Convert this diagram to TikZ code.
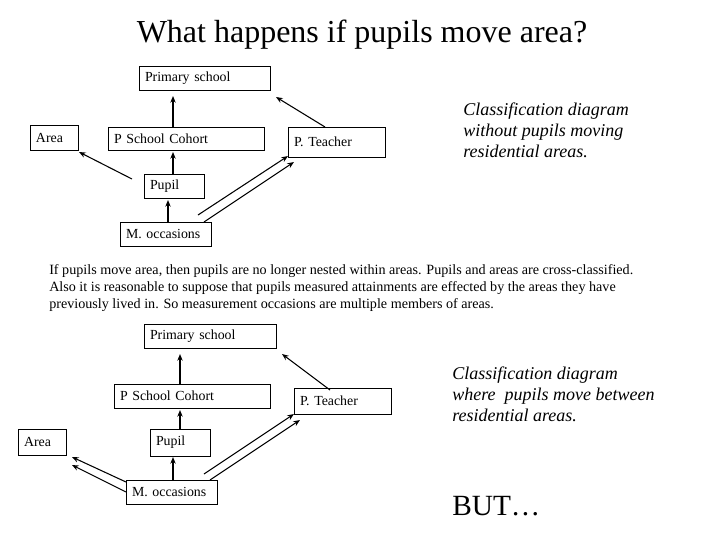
\documentclass[tikz,border=0pt]{standalone}
\usepackage{fontspec}
\setmainfont{Liberation Serif}
\usetikzlibrary{arrows.meta}
\begin{document}
\begin{tikzpicture}[x=0.75pt,y=-0.75pt,
  bx/.style={draw,line width=0.6pt,inner sep=0pt,font=\fontsize{10.4}{12}\selectfont},
  va/.style={-{Stealth[length=5pt,width=4pt]},line width=1.3pt},
  da/.style={-{Stealth[length=5pt,width=4pt]},line width=0.8pt}]
\useasboundingbox (0,0) rectangle (720,540);
\newcommand\bx[6]{\node[bx,minimum width=(#4-#2)*0.75pt,minimum height=(#5-#3)*0.75pt,text width=(#4-#2-12)*0.75pt,align=left] (#1) at ({(#2+#4)/2},{(#3+#5)/2}) {#6};}
\node (title) at (362,35) {\fontsize{24}{28}\selectfont What happens if pupils move area?};
% top diagram
\bx{ps1}{139}{66}{270}{90}{Primary school}
\bx{ar1}{30}{125}{78}{150}{Area}
\bx{co1}{108}{127}{264}{150}{P School Cohort}
\bx{te1}{288}{127}{385}{157}{P. Teacher}
\bx{pu1}{144}{174}{204}{198}{Pupil}
\bx{mo1}{120}{222}{211}{246}{M. occasions}
\coordinate (a1) at (173,96); \coordinate (a2) at (173,152); \coordinate (a3) at (168,200);
\draw[va] (co1.north -| a1) -- (a1);
\draw[va] (pu1.north -| a2) -- (a2);
\draw[va] (mo1.north -| a3) -- (a3);
\coordinate (b1) at (132,179); \coordinate (b2) at (79,152);
\draw[da] (b1) -- (b2);
\coordinate (c1) at (325,127); \coordinate (c2) at (276,97);
\draw[da] (c1) -- (c2);
\coordinate (d1) at (198,215); \coordinate (d2) at (288,156);
\coordinate (d3) at (204,222); \coordinate (d4) at (294,162);
\draw[da] (d1) -- (d2); \draw[da] (d3) -- (d4);
\node[align=left,anchor=north west,inner sep=0pt,font=\itshape\fontsize{13.5}{15.4}\selectfont] (cap1) at (463,103) {Classification diagram\\without pupils moving\\residential areas.};
\node[align=left,anchor=north west,inner sep=0pt,font=\fontsize{10.6}{12.8}\selectfont] (para) at (49,264) {If pupils move area, then pupils are no longer nested within areas. Pupils and areas are cross-classified.\\Also it is reasonable to suppose that pupils measured attainments are effected by the areas they have\\previously lived in. So measurement occasions are multiple members of areas.};
% bottom diagram
\bx{ps2}{144}{324}{276}{348}{Primary school}
\bx{co2}{114}{384}{270}{408}{P School Cohort}
\bx{te2}{294}{388}{391}{414}{P. Teacher}
\bx{ar2}{18}{429}{66}{455}{Area}
\bx{pu2}{150}{429}{210}{456}{Pupil}
\bx{mo2}{126}{480}{217}{504}{M. occasions}
\coordinate (e1) at (180,354); \coordinate (e2) at (180,410); \coordinate (e3) at (173,457);
\draw[va] (co2.north -| e1) -- (e1);
\draw[va] (pu2.north -| e2) -- (e2);
\draw[va] (mo2.north -| e3) -- (e3);
\coordinate (f1) at (330,390); \coordinate (f2) at (282,354);
\draw[da] (f1) -- (f2);
\coordinate (g1) at (204,474); \coordinate (g2) at (294,414);
\coordinate (g3) at (210,480); \coordinate (g4) at (300,420);
\draw[da] (g1) -- (g2); \draw[da] (g3) -- (g4);
\coordinate (h1) at (126,482); \coordinate (h2) at (72,457);
\coordinate (h3) at (126,492); \coordinate (h4) at (72,465);
\draw[da] (h1) -- (h2); \draw[da] (h3) -- (h4);
\node[align=left,anchor=north west,inner sep=0pt,font=\itshape\fontsize{13.5}{15.4}\selectfont] (cap2) at (452,367) {Classification diagram\\where\ \ pupils move between\\residential areas.};
\node[anchor=west,inner sep=0pt,font=\fontsize{22}{26}\selectfont] (but) at (452,506) {BUT…};
\end{tikzpicture}
\end{document}
